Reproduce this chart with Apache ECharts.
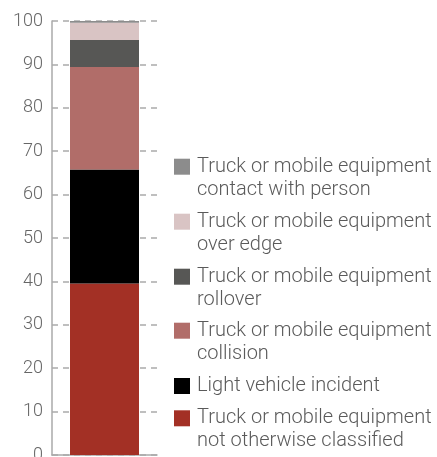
<!DOCTYPE html>
<html>
<head>
<meta charset="utf-8">
<script src="https://cdn.jsdelivr.net/npm/echarts@6/dist/echarts.min.js"></script>
<style>
  html, body { margin: 0; padding: 0; background: #fff; }
  #chart { width: 437px; height: 457px; }
</style>
</head>
<body>
<div id="chart"></div>
<script>
// data (percent of incidents)
var categories = ['All'];
var seriesNames = [
  'Truck or mobile equipment not otherwise classified',
  'Light vehicle incident',
  'Truck or mobile equipment collision',
  'Truck or mobile equipment rollover',
  'Truck or mobile equipment over edge',
  'Truck or mobile equipment contact with person'
];
var nocValues = [39.5];
var lightVehicleValues = [26.3];
var collisionValues = [23.6];
var rolloverValues = [6.2];
var overEdgeValues = [4.0];
var contactValues = [0.4];
var yTicks = [0, 10, 20, 30, 40, 50, 60, 70, 80, 90, 100];

var seriesValues = [nocValues, lightVehicleValues, collisionValues, rolloverValues, overEdgeValues, contactValues];
var colors = ['#a33025', '#000000', '#b16d69', '#575755', '#d9c4c4', '#8c8c8c'];

// legend labels, split over two lines like the original
var legendLabels = {
  'Truck or mobile equipment not otherwise classified': 'Truck or mobile equipment\nnot otherwise classified',
  'Light vehicle incident': 'Light vehicle incident',
  'Truck or mobile equipment collision': 'Truck or mobile equipment\ncollision',
  'Truck or mobile equipment rollover': 'Truck or mobile equipment\nrollover',
  'Truck or mobile equipment over edge': 'Truck or mobile equipment\nover edge',
  'Truck or mobile equipment contact with person': 'Truck or mobile equipment\ncontact with person'
};

var fontFamily = 'Roboto';
var lineH = 23;
// icon centre y of each legend entry, top of the list first
var legendOrder = [5, 4, 3, 2, 1, 0];
var iconCentres = [166.7, 221.7, 276.7, 330.7, 386, 418.3];

var chart = echarts.init(document.getElementById('chart'));

var legends = legendOrder.map(function (idx, i) {
  var name = seriesNames[idx];
  var twoLine = legendLabels[name].indexOf('\n') >= 0;
  // a blank first line keeps the icon level with the first text line
  var top = twoLine ? iconCentres[i] - lineH * 1.5 : iconCentres[i] - lineH / 2;
  return {
    orient: 'vertical',
    left: 174,
    top: top,
    padding: 0,
    itemWidth: 16,
    itemHeight: 16,
    itemGap: 0,
    selectedMode: false,
    icon: 'rect',
    data: [name],
    formatter: function (n) {
      var t = legendLabels[n];
      return t.indexOf('\n') >= 0 ? '\n' + t : t;
    },
    textStyle: {
      color: '#5a5a5a',
      fontSize: 20,
      fontFamily: fontFamily,
      fontWeight: 300,
      lineHeight: lineH,
      padding: [0, 0, 0, 2]
    }
  };
});

chart.setOption({
  animation: false,
  backgroundColor: '#fff',
  color: colors,
  grid: {
    left: 52,
    right: 280,
    top: 21,
    bottom: 2,
    outerBoundsMode: 'none'
  },
  legend: legends,
  xAxis: {
    type: 'category',
    data: categories,
    axisLine: { lineStyle: { color: '#aaaaaa', width: 1.5 } },
    axisTick: { show: false },
    axisLabel: { show: false }
  },
  yAxis: {
    type: 'value',
    min: yTicks[0],
    max: yTicks[yTicks.length - 1],
    interval: 10,
    axisLine: { show: true, lineStyle: { color: '#aaaaaa', width: 1.5 } },
    axisTick: { show: false },
    axisLabel: {
      color: '#666666',
      fontSize: 18,
      fontFamily: fontFamily,
      fontWeight: 300,
      margin: 9
    },
    splitLine: {
      lineStyle: { color: '#aaaaaa', type: [6, 5], width: 1.5 }
    }
  },
  series: seriesNames.map(function (name, i) {
    return {
      name: name,
      type: 'bar',
      stack: 'total',
      barWidth: 69,
      data: seriesValues[i]
    };
  })
});
</script>
</body>
</html>
